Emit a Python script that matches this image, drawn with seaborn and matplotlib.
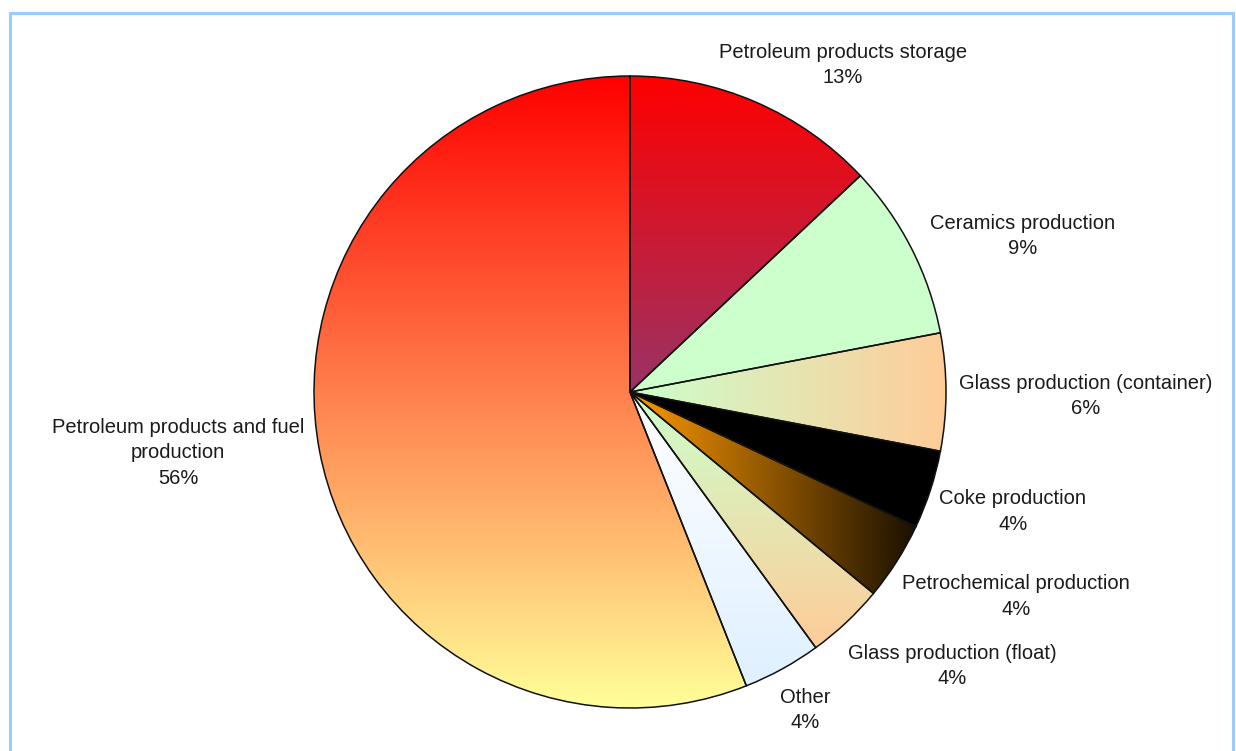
import numpy as np
import matplotlib
matplotlib.use("Agg")
import matplotlib.pyplot as plt
from matplotlib.colors import to_rgb
from matplotlib.patches import Rectangle
import seaborn as sns

# Emission shares by source, clockwise from 12 o'clock
categories = [
    "Petroleum products storage",
    "Ceramics production",
    "Glass production (container)",
    "Coke production",
    "Petrochemical production",
    "Glass production (float)",
    "Other",
    "Petroleum products and fuel production",
]
display_names = [
    "Petroleum products storage",
    "Ceramics production",
    "Glass production (container)",
    "Coke production",
    "Petrochemical production",
    "Glass production (float)",
    "Other",
    "Petroleum products and fuel\nproduction",
]
shares = [13, 9, 6, 4, 4, 4, 4, 56]

# Two-colour gradient fills: (first colour, second colour, direction)
# "v" runs top -> bottom, "h" runs left -> right
fills = [
    ("#ff0000", "#993366", "v"),
    ("#ccffcc", "#ccffcc", "v"),
    ("#ccffcc", "#ffcc99", "h"),
    ("#000000", "#000000", "v"),
    ("#ff9900", "#1a1000", "h"),
    ("#ccffcc", "#ffcc99", "v"),
    ("#ffffff", "#dff0ff", "v"),
    ("#ff0000", "#ffff99", "v"),
]

# Label anchor points, in pie-radius units from the centre
label_pos = [
    (0.674, 1.035),
    (1.241, 0.494),
    (1.443, -0.013),
    (1.212, -0.377),
    (1.222, -0.646),
    (1.019, -0.867),
    (0.554, -1.006),
    (-1.430, -0.193),
]

sns.set_theme(style="white")
plt.rcParams["font.family"] = ["Liberation Sans", "DejaVu Sans"]

W, H = 1236, 751
cx, cy, R = 630, 392, 316
fig = plt.figure(figsize=(W / 100, H / 100), dpi=100)
fig.patch.set_facecolor("white")
ax = fig.add_axes([0, 0, 1, 1])
ax.axis("off")

wedges, _ = ax.pie(
    shares,
    startangle=90,
    counterclock=False,
    radius=1.0,
    wedgeprops=dict(facecolor="none", edgecolor="#111111", linewidth=1.1, zorder=3),
)

n = 256
t = np.linspace(0, 1, n)
for w, (c1, c2, d) in zip(wedges, fills):
    ext = w.get_path().get_extents()
    a, b = np.array(to_rgb(c1)), np.array(to_rgb(c2))
    ramp = a[None, :] * (1 - t[:, None]) + b[None, :] * t[:, None]
    if d == "v":
        img = np.repeat(ramp[:, None, :], 2, axis=1)   # row 0 at the top
    else:
        img = np.repeat(ramp[None, :, :], 2, axis=0)   # column 0 at the left
    im = ax.imshow(img, extent=(ext.x0, ext.x1, ext.y0, ext.y1), origin="upper",
                   aspect="auto", interpolation="bilinear", zorder=2)
    im.set_clip_path(w)

ax.set_aspect("auto")
ax.set_xlim(-cx / R, (W - cx) / R)
ax.set_ylim(-(H - cy) / R, cy / R)

for name, share, (lx, ly) in zip(display_names, shares, label_pos):
    ax.text(lx, ly, f"{name}\n{share}%", ha="center", va="center",
            fontsize=14.5, color="#1a1a1a", linespacing=1.45, zorder=4)

# Light blue frame around the chart area
fig.add_artist(Rectangle((10 / W, -0.05), (1233 - 10) / W, (H - 13) / H + 0.05,
                         transform=fig.transFigure, fill=False,
                         edgecolor="#99ccff", linewidth=2.2))

fig.savefig("out.png", dpi=100)
